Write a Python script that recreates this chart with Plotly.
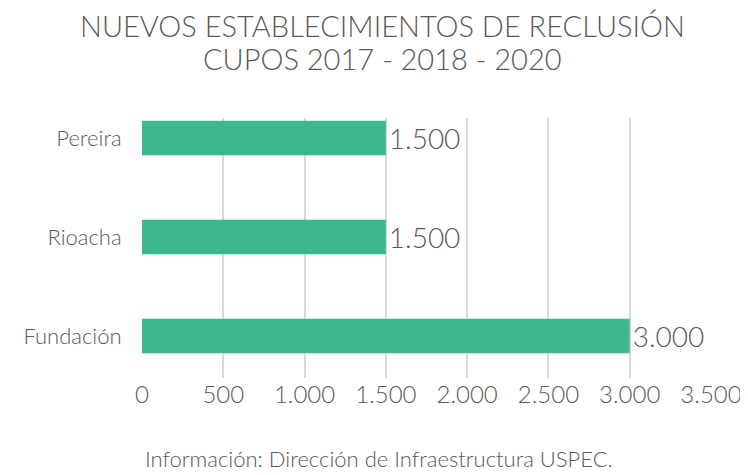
import plotly.graph_objects as go

categories = ["Fundación", "Rioacha", "Pereira"]
values = [3000, 1500, 1500]
value_labels = ["3.000", "1.500", "1.500"]
title_lines = ["NUEVOS ESTABLECIMIENTOS DE RECLUSIÓN", "CUPOS 2017 - 2018 - 2020"]
source_note = "Información: Dirección de Infraestructura USPEC."

TXT = "#595959"
FONT = "Lato"
OFF = 8  # page body margin
W, H = 748 - OFF, 475 - OFF
L, R, T, B = 142 - OFF, 37, 118 - OFF, 97
PW, PH = W - L - R, H - T - B


def px(x, y):
    x -= OFF
    y -= OFF
    return (x - L) / PW, (H - B - y) / PH


fig = go.Figure(go.Bar(
    y=categories, x=values, orientation="h",
    marker=dict(color="#3BB98D", line=dict(width=0)),
    width=0.35,
    text=value_labels, textposition="outside",
    textfont=dict(size=28, color=TXT, family=FONT, weight=300),
    cliponaxis=False,
))

annots = []
for line, yy in zip(title_lines, [26, 59]):
    ax, ay = px(382, yy)
    annots.append(dict(text=line, x=ax, y=ay, xref="paper", yref="paper",
                       xanchor="center", yanchor="middle", showarrow=False,
                       font=dict(size=29, color=TXT, family=FONT, weight=300)))
ax, ay = px(379, 458)
annots.append(dict(text=source_note, x=ax, y=ay, xref="paper", yref="paper",
                   xanchor="center", yanchor="middle", showarrow=False,
                   font=dict(size=22, color=TXT, family=FONT, weight=300)))

fig.update_layout(
    width=W, height=H,
    margin=dict(l=L, r=R, t=T, b=B, autoexpand=False),
    plot_bgcolor="white", paper_bgcolor="white",
    separators=",.",
    showlegend=False,
    xaxis=dict(range=[0, 3500], dtick=500, tickformat=",d", separatethousands=True,
               showgrid=True, gridcolor="#D9D9D9", gridwidth=1.5,
               zeroline=False, showline=False, automargin=False,
               ticks="", ticklen=0,
               tickfont=dict(size=24, color=TXT, family=FONT, weight=300)),
    yaxis=dict(range=[-0.424, 2.202], showgrid=False, zeroline=False,
               showline=False, automargin=False,
               ticks="outside", ticklen=15, tickcolor="white",
               tickfont=dict(size=22, color=TXT, family=FONT, weight=300)),
    annotations=annots,
)

fig.write_html("out.html")
